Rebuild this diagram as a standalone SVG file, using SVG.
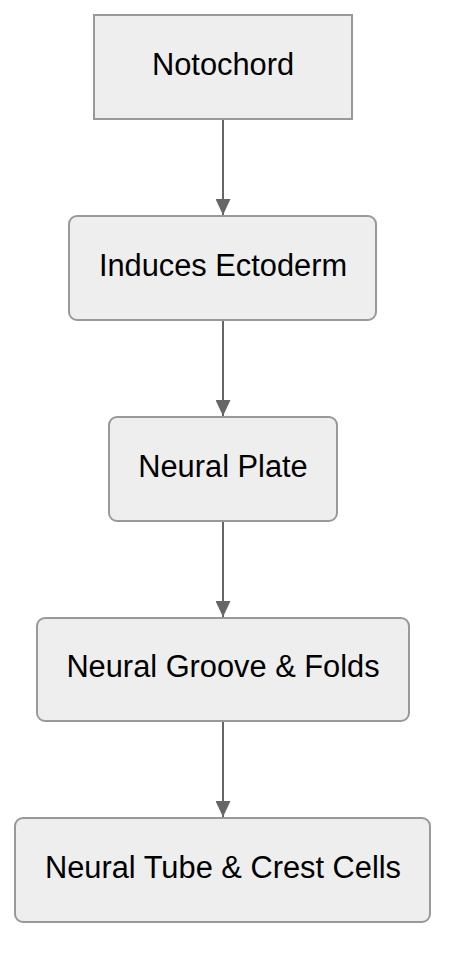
<svg xmlns="http://www.w3.org/2000/svg" width="462" height="972" viewBox="0 0 462 972">
<style>
.box{fill:#eeeeee;stroke:#999999;stroke-width:2}
.lbl{font-family:"Liberation Sans",Arial,sans-serif;font-size:30.8px;fill:#000;text-anchor:middle}
.edge{stroke:#666666;stroke-width:2;fill:none}
</style>
<defs>
<marker id="arr" viewBox="0 0 16 15" refX="16" refY="7.5" markerWidth="16" markerHeight="15" markerUnits="userSpaceOnUse" orient="auto">
<path d="M0,0 L16,7.5 L0,15 Z" fill="#666666"/>
</marker>
</defs>
<rect width="462" height="972" fill="#ffffff"/>
<g id="connectors">
<line class="edge" x1="223" y1="120" x2="223" y2="215" marker-end="url(#arr)"/>
<line class="edge" x1="223" y1="321" x2="223" y2="416" marker-end="url(#arr)"/>
<line class="edge" x1="223" y1="522" x2="223" y2="617" marker-end="url(#arr)"/>
<line class="edge" x1="223" y1="722" x2="223" y2="817" marker-end="url(#arr)"/>
</g>
<g id="notochord">
<rect class="box" x="94" y="15" width="258" height="104"/>
<text class="lbl" x="223" y="75">Notochord</text>
</g>
<g id="induces-ectoderm">
<rect class="box" x="69" y="216" width="307" height="104" rx="8"/>
<text class="lbl" x="223" y="276">Induces Ectoderm</text>
</g>
<g id="neural-plate">
<rect class="box" x="109" y="417" width="228" height="104" rx="8"/>
<text class="lbl" x="223" y="477">Neural Plate</text>
</g>
<g id="neural-groove">
<rect class="box" x="37" y="618" width="372" height="103" rx="8"/>
<text class="lbl" x="223" y="677">Neural Groove &amp; Folds</text>
</g>
<g id="neural-tube">
<rect class="box" x="15" y="818" width="415" height="104" rx="8"/>
<text class="lbl" x="223" y="878">Neural Tube &amp; Crest Cells</text>
</g>
</svg>
